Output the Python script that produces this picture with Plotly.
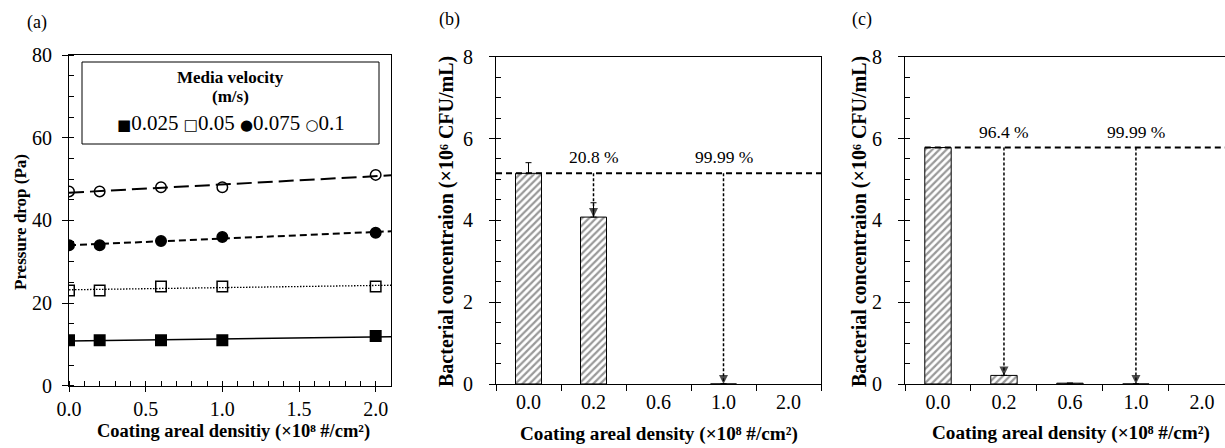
import numpy as np
import plotly.graph_objects as go

# ---------------- data ----------------
density = [0.0, 0.2, 0.6, 1.0, 2.0]
velocity_labels = ["0.025", "0.05", "0.075", "0.1"]
dp_0025 = [11, 11, 11, 11, 12]
dp_005 = [23, 23, 24, 24, 24]
dp_0075 = [34, 34, 35, 36, 37]
dp_01 = [47, 47, 48, 48, 51]

categories = ["0.0", "0.2", "0.6", "1.0", "2.0"]
conc_b = [5.15, 4.08, None, 0.0005, None]
err_b = [0.26, 0.35, 0, 0, 0]
conc_c = [5.78, 0.21, 0.02, 0.0006, None]
err_c = [0, 0, 0, 0, 0]
reduction_cats = ["0.2", "1.0"]
reduction_b = ["20.8 %", "99.99 %"]
reduction_c = ["96.4 %", "99.99 %"]

# ---------------- layout helpers ----------------
W, H = 1225, 448
def px(x):
    return x / W
def py(y):
    return 1 - y / H

FONT = "Liberation Serif, Times New Roman, serif"
SYMFONT = "DejaVu Sans, sans-serif"
TICKF = dict(family=FONT, size=20, color="black")
BAR_W = 0.4
XMAX_A = 2.1
idx = list(range(len(categories)))

fig = go.Figure()

# ---------------- panel (a) ----------------
series = [
    (dp_0025, "square", "solid", 1.5),
    (dp_005, "square-open", "1.5px,1.5px", 1.3),
    (dp_0075, "circle", "7px,4px", 2),
    (dp_01, "circle-open", "15px,6px", 2),
]
for (vals, sym, dash, lw), lab in zip(series, velocity_labels):
    coef = np.polyfit(density, vals, 1)
    xt = np.array([0.0, XMAX_A])
    fig.add_trace(go.Scatter(x=xt, y=np.polyval(coef, xt), mode="lines",
                             line=dict(color="black", width=lw, dash=dash),
                             showlegend=False, hoverinfo="skip", xaxis="x", yaxis="y"))
    fig.add_trace(go.Scatter(x=density, y=vals, mode="markers", name=lab,
                             marker=dict(symbol=sym, size=10.5, color="black",
                                         line=dict(color="black", width=1.5)),
                             showlegend=False, xaxis="x", yaxis="y"))

# ---------------- panels (b) and (c) ----------------
def add_bar_panel(vals, errs, labels, xa, ya, xstart, xend):
    fig.add_trace(go.Bar(
        x=idx, y=vals, width=BAR_W,
        marker=dict(color="white", line=dict(color="black", width=1),
                    pattern=dict(shape="/", fgcolor="#333333", bgcolor="white",
                                 size=5, solidity=0.45)),
        error_y=dict(type="data", array=errs, arrayminus=[0] * len(errs),
                     symmetric=False, color="black", thickness=1, width=3),
        showlegend=False, xaxis=xa, yaxis=ya))
    base = vals[0]
    fig.add_trace(go.Scatter(x=[xstart, xend], y=[base, base], mode="lines",
                             line=dict(color="black", width=2, dash="6px,4px"),
                             showlegend=False, hoverinfo="skip", xaxis=xa, yaxis=ya))
    for cat, lab in zip(reduction_cats, labels):
        i = categories.index(cat)
        target = vals[i] or 0
        fig.add_trace(go.Scatter(x=[i, i], y=[base, target], mode="lines+markers",
                                 line=dict(color="black", width=1.5, dash="3px,2px"),
                                 marker=dict(symbol=["circle", "arrow-down"], size=[0, 9],
                                             color="black", line=dict(width=0)),
                                 showlegend=False, hoverinfo="skip", xaxis=xa, yaxis=ya))
        fig.add_annotation(x=i, y=base, xref=xa, yref=ya, yshift=16, showarrow=False,
                           text=lab, font=dict(family=FONT, size=17.5, color="black"))

add_bar_panel(conc_b, err_b, reduction_b, "x2", "y2", -0.5, 4.5)
add_bar_panel(conc_c, err_c, reduction_c, "x3", "y3", -BAR_W / 2, 4.35)

# ---------------- axes ----------------
def lin_axis(**kw):
    d = dict(showline=True, linecolor="black", linewidth=1, showgrid=False,
             zeroline=False, tickfont=TICKF, ticks="outside", ticklen=5,
             tickcolor="black", automargin=False)
    d.update(kw)
    return d

def cat_axis(domain, anchor, rng):
    return lin_axis(domain=domain, anchor=anchor, range=rng, tickmode="array",
                    tickvals=idx, ticktext=categories, ticks="outside", ticklen=0,
                    mirror=True,
                    minor=dict(tickmode="linear", tick0=0.5, dtick=1, ticks="outside",
                               ticklen=6, tickcolor="black", tickwidth=1))

def bar_yaxis(domain, anchor, mirror):
    return lin_axis(domain=domain, anchor=anchor, range=[0, 8], dtick=2, mirror=mirror,
                    ticklen=6, ticklabelposition="outside", ticklabelstandoff=12,
                    minor=dict(dtick=0.5, ticks="inside", ticklen=5, tickcolor="black"))

fig.update_layout(
    xaxis=lin_axis(domain=[px(69), px(391)], anchor="y", range=[0, XMAX_A],
                   tick0=0, dtick=0.5, tickformat=".1f", mirror=True,
                   minor=dict(dtick=0.1, ticks="inside", ticklen=5, tickcolor="black")),
    yaxis=lin_axis(domain=[py(385.7), py(55)], anchor="x", range=[0, 80],
                   dtick=20, mirror=True, ticklen=6, ticklabelposition="outside",
                   ticklabelstandoff=6,
                   minor=dict(dtick=5, ticks="inside", ticklen=5, tickcolor="black")),
    xaxis2=cat_axis([px(496), px(821)], "y2", [-0.5, 4.5]),
    yaxis2=bar_yaxis([py(384), py(56.7)], "x2", True),
    xaxis3=cat_axis([px(905), 1.0], "y3", [-0.5, 4.35]),
    yaxis3=bar_yaxis([py(384), py(56.7)], "x3", False),
    width=W, height=H, margin=dict(l=0, r=0, t=0, b=0),
    plot_bgcolor="white", paper_bgcolor="white", showlegend=False,
)

# ---------------- text annotations ----------------
def ptext(x, y, text, size, angle=0):
    fig.add_annotation(x=px(x), y=py(y), xref="paper", yref="paper", text=text,
                       showarrow=False, textangle=angle, xanchor="center", yanchor="middle",
                       font=dict(family=FONT, size=size, color="black"))

ptext(37, 22, "(a)", 18)
ptext(449, 20, "(b)", 18)
ptext(862, 20, "(c)", 18)
xt_a = "<b>Coating areal densitiy (×10⁸ #/cm²)</b>"
xt_bc = "<b>Coating areal density (×10⁸ #/cm²)</b>"
yt_bc = "<b>Bacterial concentraion (×10⁶ CFU/mL)</b>"
ptext(233, 431, xt_a, 18.5)
ptext(20, 222, "<b>Pressure drop (Pa)</b>", 17, -90)
ptext(659, 434, xt_bc, 19.2)
ptext(446, 222, yt_bc, 20, -90)
ptext(1071, 433, xt_bc, 19.2)
ptext(859, 222, yt_bc, 20, -90)

# ---------------- legend box (panel a) ----------------
fig.add_shape(type="rect", xref="paper", yref="paper", x0=px(82), x1=px(379),
              y0=py(144), y1=py(62), line=dict(color="black", width=1),
              fillcolor="white", layer="above")
ptext(230, 78, "<b>Media velocity</b>", 17)
ptext(230, 96, "<b>(m/s)</b>", 17)
glyphs = ["■", "□", "●", "○"]
entry = " ".join(
    f'<span style="font-family:{SYMFONT};font-size:15px">{g}</span>{lab}'
    for g, lab in zip(glyphs, velocity_labels))
ptext(231, 123, entry, 21)

fig.write_html("out.html", config={"displayModeBar": False},
               post_script="document.body.style.margin='0';document.body.style.overflow='hidden';")
